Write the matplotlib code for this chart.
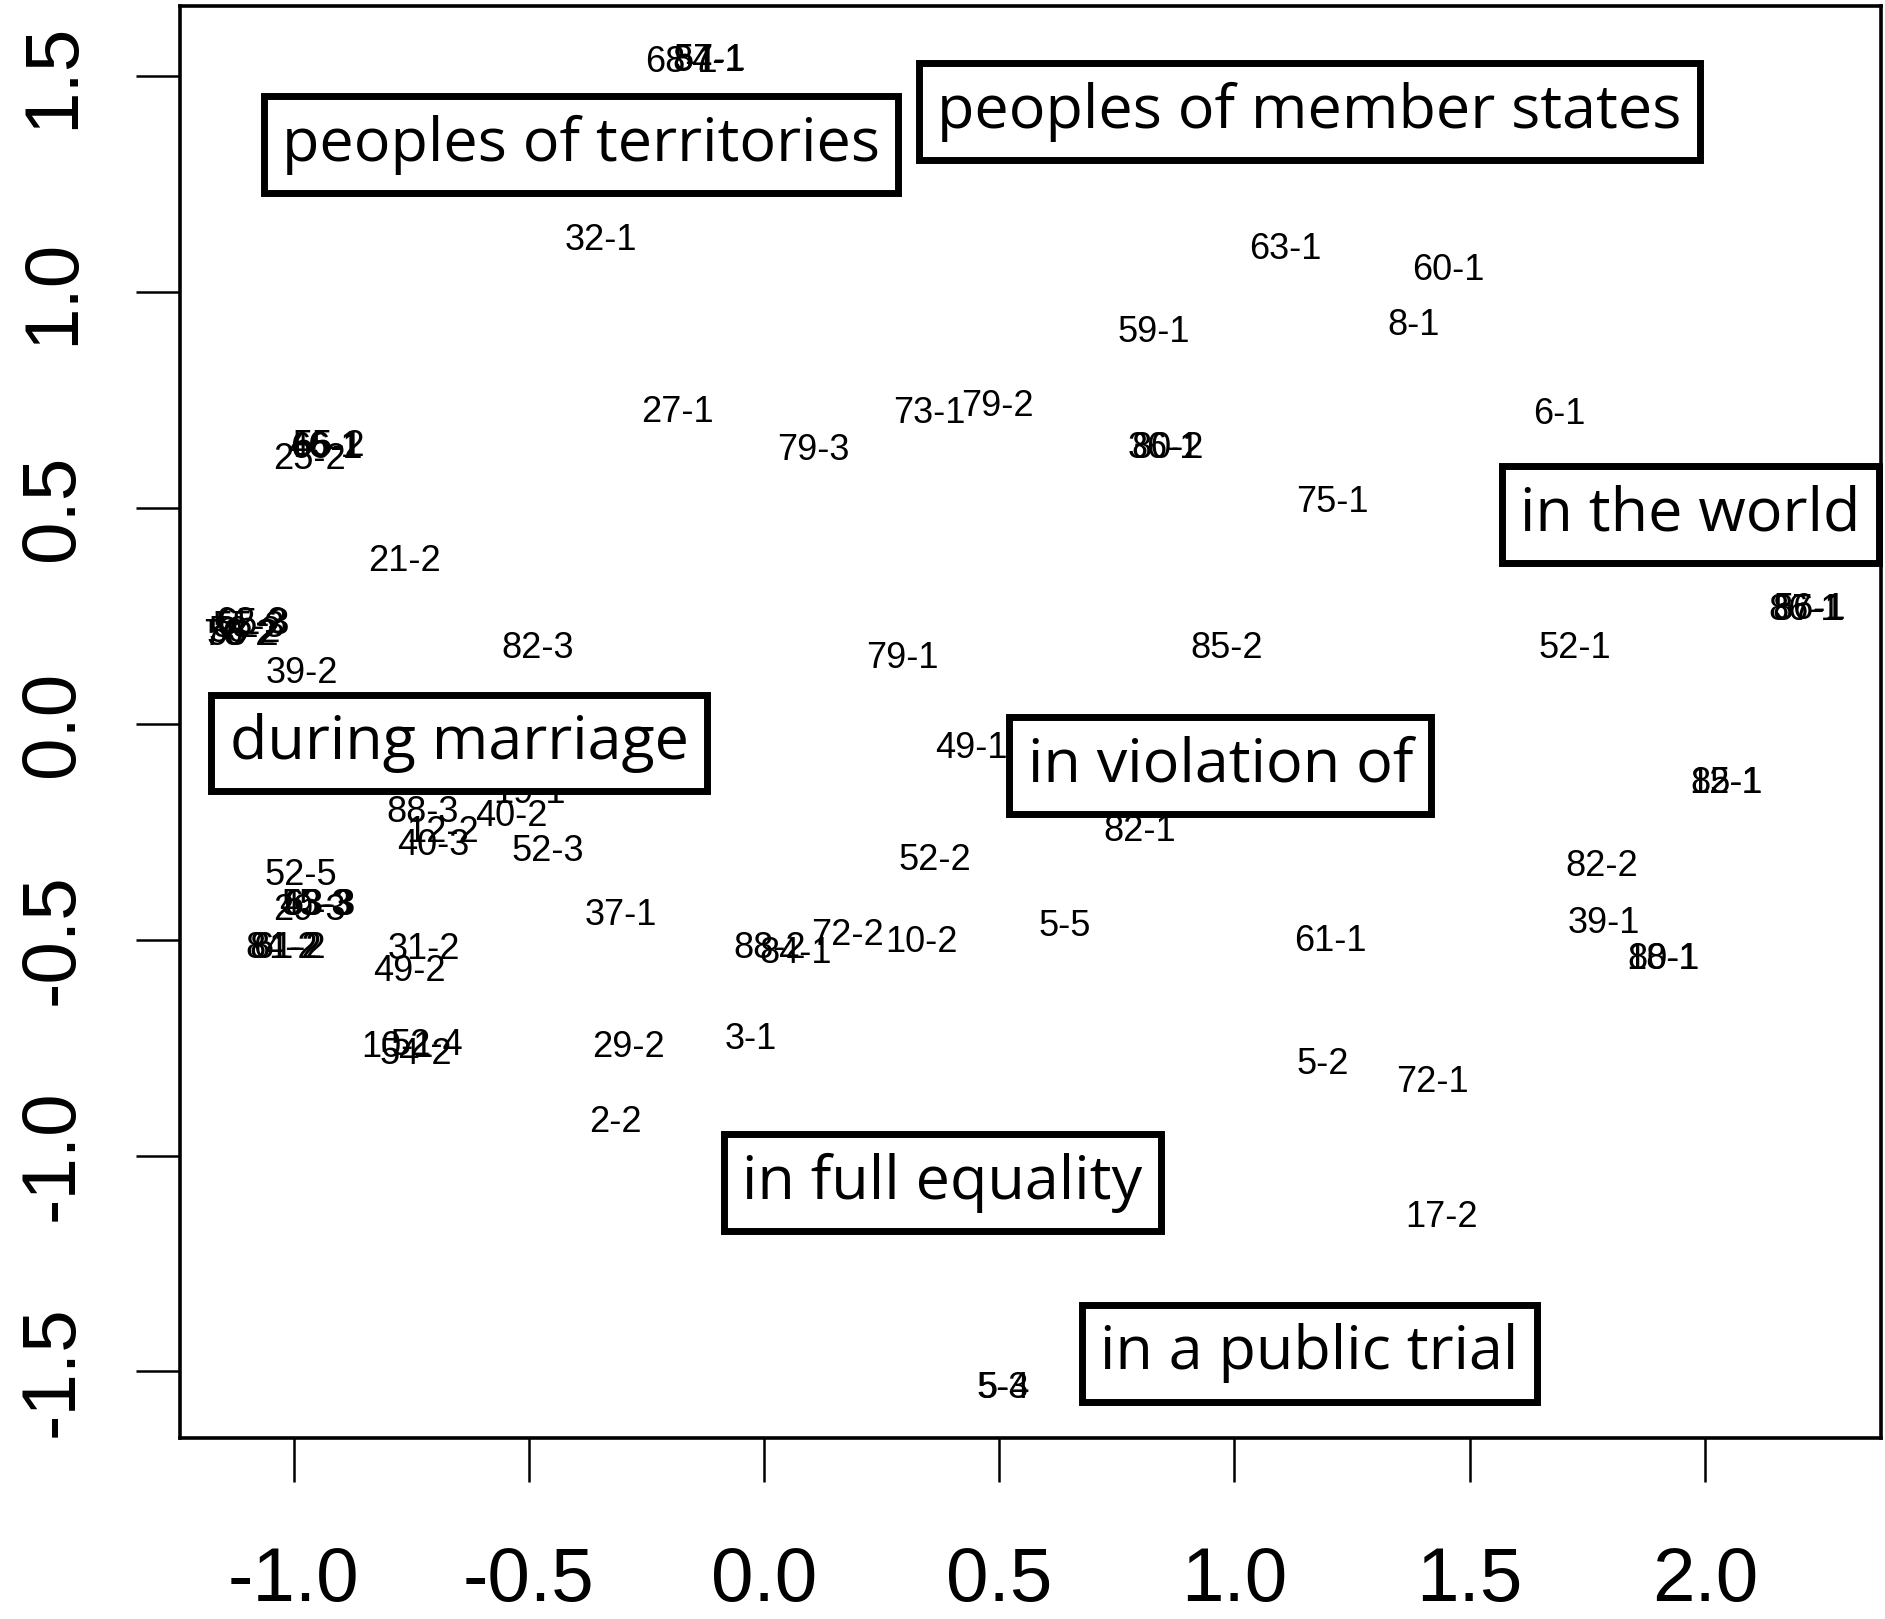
import matplotlib
matplotlib.use("Agg")
import matplotlib.pyplot as plt

# point labels (article-paragraph ids) and their 2D coordinates
labels = ["68-1", "57-1", "84-1", "32-1", "63-1", "60-1", "59-1", "8-1",
          "27-1", "73-1", "79-2", "6-1", "79-3", "36-1", "80-2",
          "25-2", "46-1", "55-2", "66-1", "75-1", "21-2", "82-3", "79-1",
          "85-2", "52-1", "86-1", "87-1", "56-1",
          "70-2", "58-2", "65-3", "62-3", "53-2", "55-3",
          "39-2", "49-1", "19-1", "88-3", "40-2", "12-2", "40-3", "52-3",
          "52-5", "29-3", "45-3", "53-3", "63-3", "82-1", "52-2", "82-2",
          "85-1", "12-1", "37-1", "5-5", "61-1", "39-1", "18-1", "80-1",
          "84-2", "81-2", "61-2", "31-2", "49-2", "88-2", "84-1", "72-2",
          "10-2", "3-1", "10-1", "52-4", "54-2", "29-2", "5-2", "72-1",
          "2-2", "17-2", "5-3", "5-4"]
xs = [-0.176, -0.115, -0.118, -0.346, 1.108, 1.455, 0.829, 1.381,
      -0.185, 0.351, 0.497, 1.691, 0.104, 0.850, 0.858,
      -0.967, -0.935, -0.925, -0.930, 1.208, -0.765, -0.481, 0.295,
      0.983, 1.724, 2.212, 2.220, 2.222,
      -1.115, -1.108, -1.085, -1.090, -1.105, -1.095,
      -0.982, 0.441, -0.499, -0.727, -0.538, -0.684, -0.704, -0.459,
      -0.985, -0.967, -0.955, -0.950, -0.945, 0.799, 0.362, 1.780,
      2.046, 2.044, -0.305, 0.638, 1.203, 1.785, 1.910, 1.912,
      -1.025, -1.018, -1.010, -0.724, -0.755, 0.012, 0.068, 0.178,
      0.334, -0.029, -0.780, -0.718, -0.740, -0.288, 1.187, 1.420,
      -0.316, 1.440, 0.507, 0.510]
ys = [1.531, 1.536, 1.533, 1.119, 1.099, 1.049, 0.907, 0.921,
      0.721, 0.718, 0.735, 0.715, 0.632, 0.637, 0.637,
      0.612, 0.640, 0.642, 0.638, 0.512, 0.376, 0.173, 0.150,
      0.173, 0.173, 0.262, 0.262, 0.264,
      0.205, 0.205, 0.230, 0.232, 0.212, 0.222,
      0.117, -0.058, -0.161, -0.206, -0.214, -0.253, -0.281, -0.295,
      -0.351, -0.433, -0.420, -0.420, -0.420, -0.250, -0.317, -0.331,
      -0.139, -0.139, -0.445, -0.470, -0.504, -0.462, -0.545, -0.545,
      -0.520, -0.520, -0.520, -0.523, -0.573, -0.520, -0.532, -0.490,
      -0.507, -0.732, -0.751, -0.745, -0.765, -0.751, -0.790, -0.832,
      -0.924, -1.144, -1.539, -1.539]

# boxed phrase labels
phrases = ["peoples of territories", "peoples of member states", "in the world",
           "during marriage", "in violation of", "in full equality",
           "in a public trial"]
phrase_x = [-0.389, 1.159, 1.969, -0.648, 0.970, 0.379, 1.159]
phrase_y = [1.341, 1.417, 0.484, -0.045, -0.097, -1.063, -1.458]

xticks = [-1.0, -0.5, 0.0, 0.5, 1.0, 1.5, 2.0]
yticks = [-1.5, -1.0, -0.5, 0.0, 0.5, 1.0, 1.5]

fig = plt.figure(figsize=(18.85, 16.19), dpi=100)
ax = fig.add_axes([0.0957, 0.1121, 0.9023, 0.8842])

for lab, x, y in zip(labels, xs, ys):
    ax.text(x, y, lab, ha="center", va="center", fontsize=26,
            family="Liberation Sans", color="black")

for txt, x, y in zip(phrases, phrase_x, phrase_y):
    ax.text(x, y, txt, ha="center", va="center", fontsize=44,
            family="Open Sans", color="black",
            bbox=dict(boxstyle="square,pad=0.3", facecolor="white",
                      edgecolor="black", linewidth=5))

ax.set_xlim(-1.241, 2.375)
ax.set_ylim(-1.653, 1.662)

ax.set_xticks(xticks)
ax.set_xticklabels(["%.1f" % v for v in xticks])
ax.set_yticks(yticks)
ax.set_yticklabels(["%.1f" % v for v in yticks], rotation=90, va="center")

ax.tick_params(direction="out", length=32, width=1.8, labelsize=55)
ax.tick_params(axis="x", pad=46)
ax.tick_params(axis="y", pad=34)
for lab in ax.get_xticklabels() + ax.get_yticklabels():
    lab.set_family("Liberation Sans")
for sp in ax.spines.values():
    sp.set_linewidth(2.6)

fig.savefig("out.png", dpi=100)
